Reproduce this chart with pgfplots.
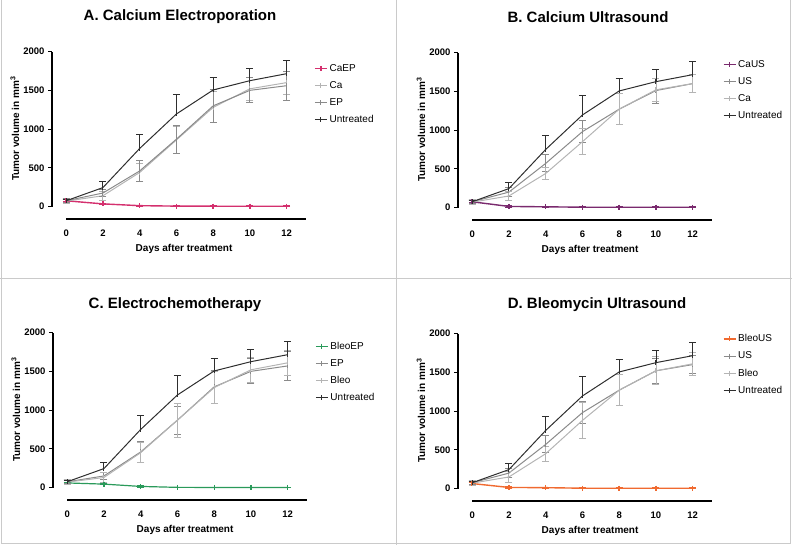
\documentclass[border=0pt]{standalone}
\usepackage{fontspec}
\setmainfont{Liberation Sans}
\usepackage{pgfplots}
\pgfplotsset{compat=1.18}

\definecolor{untr}{HTML}{2E2E2E}
\definecolor{midg}{HTML}{8A8A8A}
\definecolor{lightg}{HTML}{B4B4B4}
\definecolor{caep}{HTML}{D4306E}
\definecolor{caus}{HTML}{7A2A6E}
\definecolor{bleoep}{HTML}{2A9A5A}
\definecolor{bleous}{HTML}{F06A30}
\definecolor{frame}{HTML}{CACACA}

\pgfplotsset{
  panel/.style={
    scale only axis, width=254pt, height=167.4pt,
    xmin=-0.77, xmax=13.05, ymin=-160, ymax=2000,
    axis line style={draw=none},
    xtick={0,2,...,12}, ytick={0,500,...,2000},
    xtick pos=bottom, ytick pos=left, tick align=outside,
    x tick style={draw=none},
    y tick style={black, line width=0.9pt},
    major tick length=4pt,
    /pgf/number format/assume math mode=true,
    /pgf/number format/1000 sep={},
    tick label style={font=\fontsize{9.5}{10}\selectfont\bfseries},
    xticklabel style={yshift=-3pt},
    xlabel={Days after treatment},
    ylabel={Tumor volume in mm\textsuperscript{3}},
    label style={font=\fontsize{10}{12}\selectfont\bfseries},
    xlabel style={at={(axis description cs:0.52,-0.18)}, anchor=center},
    ylabel style={at={(axis description cs:-0.146,0.54)}, anchor=center},
    legend cell align=left,
    legend image code/.code={\draw[mark repeat=2,mark phase=2,##1] plot coordinates {(0pt,0pt) (6pt,0pt) (12pt,0pt)};},
    legend style={draw=none, fill=none, anchor=north west,
      font=\fontsize{10}{12}\selectfont, row sep=4.6pt},
    clip=false,
  },
  ser/.style={color=#1, mark=|, mark size=2.5pt, line width=1pt,
    error bars/y dir=both, error bars/y explicit,
    error bars/error bar style={line width=0.9pt, color=#1},
    error bars/error mark options={rotate=90, mark size=3.5pt, line width=0.9pt, color=#1}},
}
\newcommand{\axlines}{%
  \addplot[black, line width=1.1pt, no markers, forget plot] coordinates {(0,-160) (13.05,-160)};}
% y axis line from y=0 to y=2000, given the axis' south west corner
\newcommand{\yline}[2]{\draw[black, line width=1.1pt] (#1pt,#2pt) ++(0pt,12.4pt) -- ++(0pt,155pt);}
\newcommand{\untreated}{%
  \addplot[ser=untr, error bars/y dir=plus] coordinates {(0,75) +- (0,20) (2,245) +- (0,85) (4,750) +- (0,180) (6,1195) +- (0,255) (8,1505) +- (0,165) (10,1625) +- (0,155) (12,1715) +- (0,175)};
  \addlegendentry{Untreated}}

\begin{document}
\begin{tikzpicture}
\useasboundingbox (0pt,0pt) rectangle (792pt,545pt);
\draw[frame, line width=1pt] (1pt,545pt) -- (1pt,1.5pt) -- (790pt,1.5pt) -- (790pt,545pt);
\draw[frame, line width=1pt] (396pt,0pt) -- (396pt,545pt);
\draw[frame, line width=1pt] (0pt,266pt) -- (792pt,266pt);

\node[font=\fontsize{15}{18}\selectfont\bfseries] at (180pt,528pt) {A. Calcium Electroporation};
\node[font=\fontsize{15}{18}\selectfont\bfseries] at (588pt,528pt) {B. Calcium Ultrasound};
\node[font=\fontsize{15}{18}\selectfont\bfseries] at (175pt,240pt) {C. Electrochemotherapy};
\node[font=\fontsize{15}{18}\selectfont\bfseries] at (597pt,240pt) {D. Bleomycin Ultrasound};

% A
\begin{axis}[panel, at={(52pt,326pt)}, anchor=south west, legend style={at={(1.02,0.95)}}]
\axlines
\addplot[ser=caep, line width=1.4pt] coordinates {(0,75) +- (0,15) (2,35) +- (0,10) (4,12) +- (0,8) (6,6) +- (0,5) (8,5) +- (0,5) (10,5) +- (0,5) (12,5) +- (0,5)};
\addlegendentry{CaEP}
\addplot[ser=lightg] coordinates {(0,70) +- (0,30) (2,140) +- (0,60) (4,440) +- (0,120) (6,860) +- (0,170) (8,1280) +- (0,200) (10,1520) +- (0,150) (12,1600) +- (0,150)};
\addlegendentry{Ca}
\addplot[ser=midg] coordinates {(0,75) +- (0,25) (2,175) +- (0,50) (4,460) +- (0,140) (6,870) +- (0,180) (8,1300) +- (0,210) (10,1500) +- (0,160) (12,1560) +- (0,190)};
\addlegendentry{EP}
\untreated
\end{axis}
\yline{52}{326}

% B
\begin{axis}[panel, at={(458pt,325pt)}, anchor=south west, legend style={at={(1.03,0.98)}}]
\axlines
\addplot[ser=caus, line width=1.4pt] coordinates {(0,75) +- (0,15) (2,15) +- (0,8) (4,10) +- (0,6) (6,5) +- (0,5) (8,5) +- (0,5) (10,5) +- (0,5) (12,5) +- (0,5)};
\addlegendentry{CaUS}
\addplot[ser=midg] coordinates {(0,75) +- (0,25) (2,200) +- (0,60) (4,570) +- (0,110) (6,980) +- (0,140) (8,1270) +- (0,200) (10,1510) +- (0,160) (12,1600) +- (0,120)};
\addlegendentry{US}
\addplot[ser=lightg] coordinates {(0,70) +- (0,30) (2,150) +- (0,60) (4,440) +- (0,80) (6,850) +- (0,170) (8,1270) +- (0,200) (10,1520) +- (0,150) (12,1600) +- (0,120)};
\addlegendentry{Ca}
\untreated
\end{axis}
\yline{458}{325}

% C
\begin{axis}[panel, at={(53pt,45pt)}, anchor=south west, legend style={at={(1.02,0.97)}}]
\axlines
\addplot[ser=bleoep, line width=1.2pt] coordinates {(0,60) +- (0,10) (2,45) +- (0,10) (4,15) +- (0,8) (6,3) +- (0,4) (8,2) +- (0,4) (10,2) +- (0,4) (12,2) +- (0,4)};
\addlegendentry{BleoEP}
\addplot[ser=midg] coordinates {(0,75) +- (0,25) (2,150) +- (0,50) (4,460) +- (0,140) (6,870) +- (0,180) (8,1300) +- (0,210) (10,1500) +- (0,160) (12,1570) +- (0,190)};
\addlegendentry{EP}
\addplot[ser=lightg] coordinates {(0,70) +- (0,30) (2,130) +- (0,60) (4,450) +- (0,130) (6,870) +- (0,220) (8,1290) +- (0,210) (10,1520) +- (0,160) (12,1610) +- (0,160)};
\addlegendentry{Bleo}
\untreated
\end{axis}
\yline{53}{45}

% D
\begin{axis}[panel, at={(458pt,44pt)}, anchor=south west, legend style={at={(1.03,1.02)}}]
\axlines
\addplot[ser=bleous, line width=1.4pt] coordinates {(0,65) +- (0,15) (2,15) +- (0,8) (4,12) +- (0,8) (6,5) +- (0,5) (8,5) +- (0,5) (10,5) +- (0,5) (12,5) +- (0,5)};
\addlegendentry{BleoUS}
\addplot[ser=midg] coordinates {(0,75) +- (0,25) (2,200) +- (0,60) (4,570) +- (0,110) (6,980) +- (0,140) (8,1270) +- (0,200) (10,1520) +- (0,160) (12,1600) +- (0,120)};
\addlegendentry{US}
\addplot[ser=lightg] coordinates {(0,70) +- (0,30) (2,150) +- (0,70) (4,450) +- (0,100) (6,880) +- (0,230) (8,1270) +- (0,200) (10,1520) +- (0,180) (12,1610) +- (0,150)};
\addlegendentry{Bleo}
\untreated
\end{axis}
\yline{458}{44}
\end{tikzpicture}
\end{document}
